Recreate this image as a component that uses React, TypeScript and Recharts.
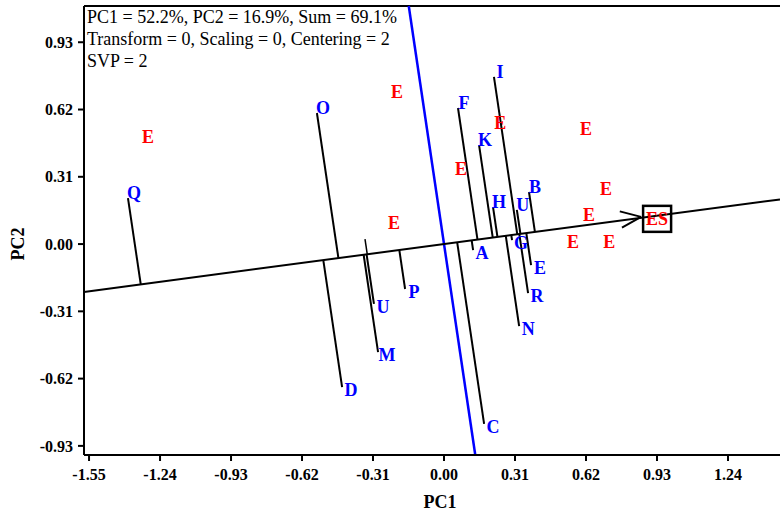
import React from "react";
import { ScatterChart, Scatter, XAxis, YAxis, ReferenceLine, Label } from "recharts";

// axis ticks
const xTicks = [-1.55, -1.24, -0.93, -0.62, -0.31, 0, 0.31, 0.62, 0.93, 1.24];
const yTicks = [-0.93, -0.62, -0.31, 0, 0.31, 0.62, 0.93];

// genotype scores (blue)
const genotypeNames = ["Q", "O", "D", "", "U", "M", "P", "A", "F", "C", "K", "H", "I", "G", "N", "U", "R", "B", "E"];
const genotypePC1 = [-1.38, -0.555, -0.445, -0.345, -0.306, -0.288, -0.17, 0.127, 0.061, 0.175, 0.153, 0.214, 0.218, 0.297, 0.328, 0.318, 0.367, 0.371, 0.38];
const genotypePC2 = [0.212, 0.604, -0.659, 0.023, -0.276, -0.498, -0.207, -0.028, 0.627, -0.829, 0.456, 0.17, 0.77, 0.018, -0.378, 0.158, -0.226, 0.24, -0.097];

// environment scores (red)
const envPC1 = [-1.293, -0.205, 0.245, 0.62, 0.074, -0.218, 0.707, 0.633, 0.563, 0.721];
const envPC2 = [0.493, 0.7, 0.558, 0.53, 0.346, 0.097, 0.253, 0.134, 0.009, 0.009];

// average environment
const avgEnvPC1 = 0.926;
const avgEnvPC2 = 0.13;

const X_MIN = -1.572;
const X_MAX = 1.467;
const Y_MIN = -0.972;
const Y_MAX = 1.097;

const FONT = "'Liberation Serif', 'Times New Roman', serif";

// ATC abscissa direction (unit vector towards average environment)
const len = Math.sqrt(avgEnvPC1 * avgEnvPC1 + avgEnvPC2 * avgEnvPC2);
const ux = avgEnvPC1 / len;
const uy = avgEnvPC2 / len;
const slope = avgEnvPC2 / avgEnvPC1;

const genotypes = genotypeNames.map((name, i) => {
  const x = genotypePC1[i];
  const y = genotypePC2[i];
  const d = x * ux + y * uy;
  return { name, x, y, fx: d * ux, fy: d * uy, above: y > slope * x };
});

const environments = envPC1.map((x, i) => ({ x, y: envPC2[i] }));
const avgEnv = [{ x: avgEnvPC1, y: avgEnvPC2 }];

const GenotypeLabel = (props: any) => {
  const { cx, cy, payload } = props;
  if (!payload.name) return <g />;
  const dx = payload.above ? 6 : 9;
  const dy = payload.above ? -5 : 3;
  return (
    <text x={cx + dx} y={cy + dy} textAnchor="middle" dominantBaseline="central"
      fill="#0000ff" fontSize={18} fontWeight="bold" fontFamily={FONT}>
      {payload.name}
    </text>
  );
};

const EnvLabel = (props: any) => {
  const { cx, cy } = props;
  return (
    <text x={cx} y={cy} textAnchor="middle" dominantBaseline="central"
      fill="#ff0000" fontSize={18} fontWeight="bold" fontFamily={FONT}>
      E
    </text>
  );
};

const AvgEnvMark = (props: any) => {
  const { cx, cy } = props;
  const bx = cx + 1;
  const by = cy + 3;
  // arrow tip sits on the left edge of the box, along the ATC line
  const tipX = bx - 16;
  const tipY = cy + 1;
  const back = Math.atan2(0.132, -0.991);
  const a1 = back - (22 * Math.PI) / 180;
  const a2 = back + (22 * Math.PI) / 180;
  return (
    <g>
      <line x1={tipX} y1={tipY} x2={tipX + 22 * Math.cos(a1)} y2={tipY + 22 * Math.sin(a1)} stroke="#000" strokeWidth={2} />
      <line x1={tipX} y1={tipY} x2={tipX + 22 * Math.cos(a2)} y2={tipY + 22 * Math.sin(a2)} stroke="#000" strokeWidth={2} />
      <rect x={bx - 14} y={by - 13} width={28} height={26} fill="none" stroke="#000" strokeWidth={2.5} />
      <text x={bx} y={by} textAnchor="middle" dominantBaseline="central"
        fill="#ff0000" fontSize={18} fontWeight="bold" fontFamily={FONT}>
        ES
      </text>
    </g>
  );
};

export default function App() {
  const tickStyle = { fill: "#000", fontSize: 16, fontWeight: "bold" as const, fontFamily: FONT };
  return (
    <div style={{ position: "absolute", left: 0, top: 0, width: 780, height: 517, background: "#fff" }}>
      <ScatterChart width={780} height={517} margin={{ top: 6, right: 0, bottom: 0, left: 0 }}>
        <XAxis
          type="number"
          dataKey="x"
          domain={[X_MIN, X_MAX]}
          ticks={xTicks}
          interval={0}
          allowDataOverflow
          height={62}
          tickSize={6}
          tickMargin={8}
          tickFormatter={(v: number) => v.toFixed(2)}
          tick={tickStyle}
          axisLine={{ stroke: "#000", strokeWidth: 2 }}
          tickLine={{ stroke: "#000", strokeWidth: 2 }}
        >
          <Label
            content={() => (
              <text x={440} y={502} textAnchor="middle" dominantBaseline="central"
                fontSize={18} fontWeight="bold" fontFamily={FONT} fill="#000">
                PC1
              </text>
            )}
          />
        </XAxis>
        <YAxis
          type="number"
          dataKey="y"
          domain={[Y_MIN, Y_MAX]}
          ticks={yTicks}
          interval={0}
          allowDataOverflow
          width={84}
          tickSize={6}
          tickMargin={5}
          tickFormatter={(v: number) => v.toFixed(2)}
          tick={tickStyle}
          axisLine={{ stroke: "#000", strokeWidth: 2 }}
          tickLine={{ stroke: "#000", strokeWidth: 2 }}
        >
          <Label
            content={() => (
              <text x={18} y={244} transform="rotate(-90 18 244)" textAnchor="middle" dominantBaseline="central"
                fontSize={18} fontWeight="bold" fontFamily={FONT} fill="#000">
                PC2
              </text>
            )}
          />
        </YAxis>

        {/* top frame */}
        <ReferenceLine y={Y_MAX} stroke="#000" strokeWidth={2} ifOverflow="visible" />

        {/* ATC ordinate */}
        <ReferenceLine
          segment={[{ x: -Y_MAX * slope, y: Y_MAX }, { x: -Y_MIN * slope, y: Y_MIN }]}
          stroke="#0000ff"
          strokeWidth={2.5}
          ifOverflow="visible"
        />

        {/* ATC abscissa */}
        <ReferenceLine
          segment={[{ x: X_MIN, y: X_MIN * slope }, { x: X_MAX, y: X_MAX * slope }]}
          stroke="#000"
          strokeWidth={2}
          ifOverflow="visible"
        />

        {/* genotype projections */}
        {genotypes.map((g, i) => (
          <ReferenceLine
            key={`p-${i}`}
            segment={[{ x: g.x, y: g.y }, { x: g.fx, y: g.fy }]}
            stroke="#000"
            strokeWidth={g.name ? 2 : 1.5}
            ifOverflow="visible"
          />
        ))}

        <Scatter data={environments} shape={<EnvLabel />} isAnimationActive={false} />
        <Scatter data={genotypes} shape={<GenotypeLabel />} isAnimationActive={false} />
        <Scatter data={avgEnv} shape={<AvgEnvMark />} isAnimationActive={false} />
      </ScatterChart>
      <div
        style={{
          position: "absolute",
          left: 87,
          top: 6,
          fontFamily: FONT,
          fontSize: 18,
          lineHeight: "22px",
          color: "#000",
          whiteSpace: "nowrap",
        }}
      >
        <div>PC1 = 52.2%, PC2 = 16.9%, Sum = 69.1%</div>
        <div>Transform = 0, Scaling = 0, Centering = 2</div>
        <div>SVP = 2</div>
      </div>
    </div>
  );
}
